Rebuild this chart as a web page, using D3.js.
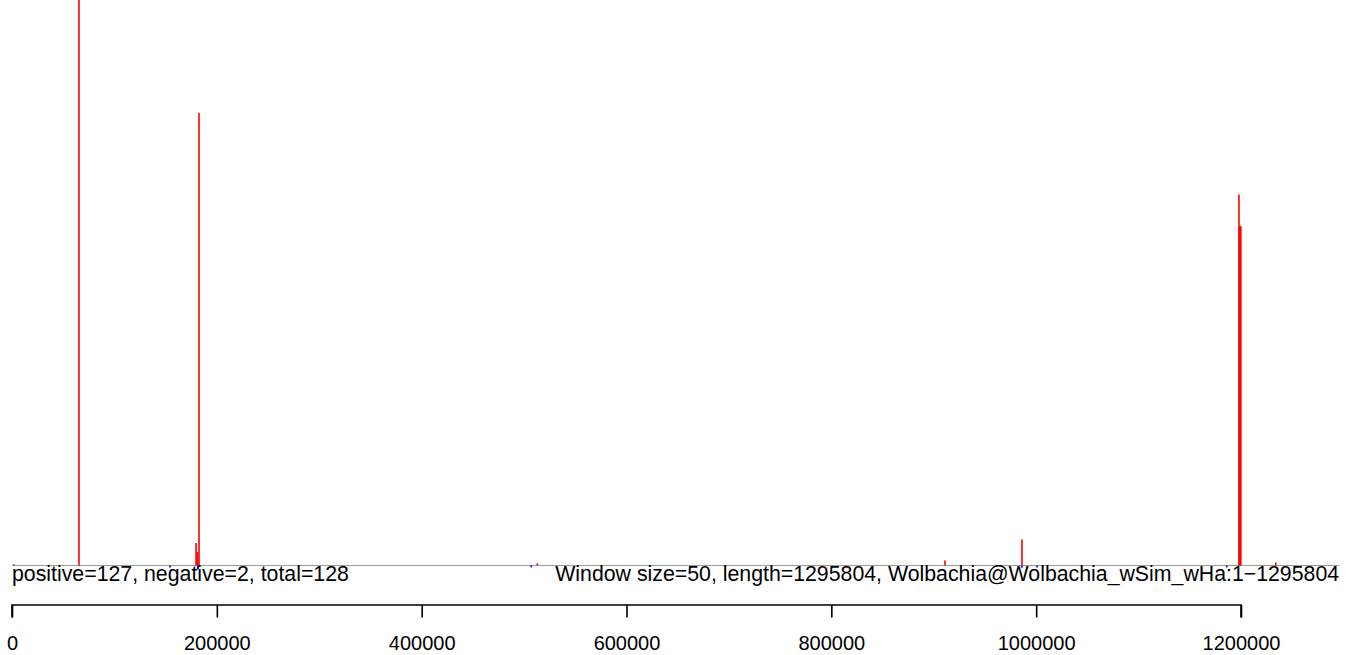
<!DOCTYPE html>
<html>
<head>
<meta charset="utf-8">
<script src="https://cdn.jsdelivr.net/npm/d3@7"></script>
<style>
html,body{margin:0;padding:0;background:#fff;}
svg{display:block;}
text{font-family:"Liberation Sans",Arial,sans-serif;fill:#000;}
</style>
</head>
<body>
<svg id="chart" width="1352" height="655"></svg>
<script>
// ---- data ----
const genomeLength = 1295804;
const windowSize = 50;
const seqName = "Wolbachia@Wolbachia_wSim_wHa";
const posPositions = [2000, 65400, 179700, 181100, 182600, 513000, 911000, 986150, 1198000, 1198700, 1199300, 1199800, 1234000];
const posValues    = [0.5, 300, 10, 6, 200, 1, 2.2, 11.5, 164, 150, 150, 150, 1.3];
const negPositions = [154300, 181300, 181800, 507000, 986100, 1000800, 1186000];
const negValues    = [-0.4, -1.2, -1.0, -0.4, -0.6, -0.4, -0.4];
const xTicks = [0, 200000, 400000, 600000, 800000, 1000000, 1200000];
const counts = {positive: 127, negative: 2, total: 128};

// ---- layout ----
const svg = d3.select("#chart");
const x = d3.scaleLinear().domain([0, 1200000]).range([12, 1241]);
const y = d3.scaleLinear().domain([0, 250]).range([565.5, 0]);

const g = svg.append("g");

// baseline
g.append("line")
  .attr("x1", x(0)).attr("x2", x(genomeLength))
  .attr("y1", y(0)).attr("y2", y(0))
  .attr("stroke", "#9a9a9a").attr("stroke-width", 1);

// positive spikes
g.selectAll("line.pos").data(posPositions.map((p, i) => ({p, v: posValues[i]})))
  .enter().append("line").attr("class", "pos")
  .attr("x1", d => x(d.p)).attr("x2", d => x(d.p))
  .attr("y1", y(0)).attr("y2", d => y(d.v))
  .attr("stroke", "#ff0000").attr("stroke-width", 1.6);

// negative spikes
g.selectAll("line.neg").data(negPositions.map((p, i) => ({p, v: negValues[i]})))
  .enter().append("line").attr("class", "neg")
  .attr("x1", d => x(d.p)).attr("x2", d => x(d.p))
  .attr("y1", y(0)).attr("y2", d => y(d.v) + 1)
  .attr("stroke", "#0000ff").attr("stroke-width", 1.6);

// texts
g.append("text")
  .attr("x", x(0)).attr("y", 581)
  .style("font-size", "21.3px")
  .text(`positive=${counts.positive}, negative=${counts.negative}, total=${counts.total}`);
g.append("text")
  .attr("x", x(genomeLength)).attr("y", 581)
  .attr("text-anchor", "end")
  .style("font-size", "21.3px")
  .text(`Window size=${windowSize}, length=${genomeLength}, ${seqName}:1\u2212${genomeLength}`);

// axis
const axis = d3.axisBottom(x).tickValues(xTicks).tickFormat(d3.format("d")).tickSize(12.5).tickPadding(0);
const ag = svg.append("g").attr("transform", "translate(0,605)").call(axis);
ag.select(".domain").attr("stroke", "#000").attr("stroke-width", 1.6)
  .attr("d", `M${x(0)},12.5V0H${x(1200000)}V12.5`);
ag.selectAll(".tick line").attr("stroke", "#000").attr("stroke-width", 1.6);
ag.selectAll(".tick text").style("font-size", "20px")
  .style("font-family", "'Liberation Sans',Arial,sans-serif").attr("fill", "#000")
  .attr("dy", null).attr("y", 45);
</script>
</body>
</html>
